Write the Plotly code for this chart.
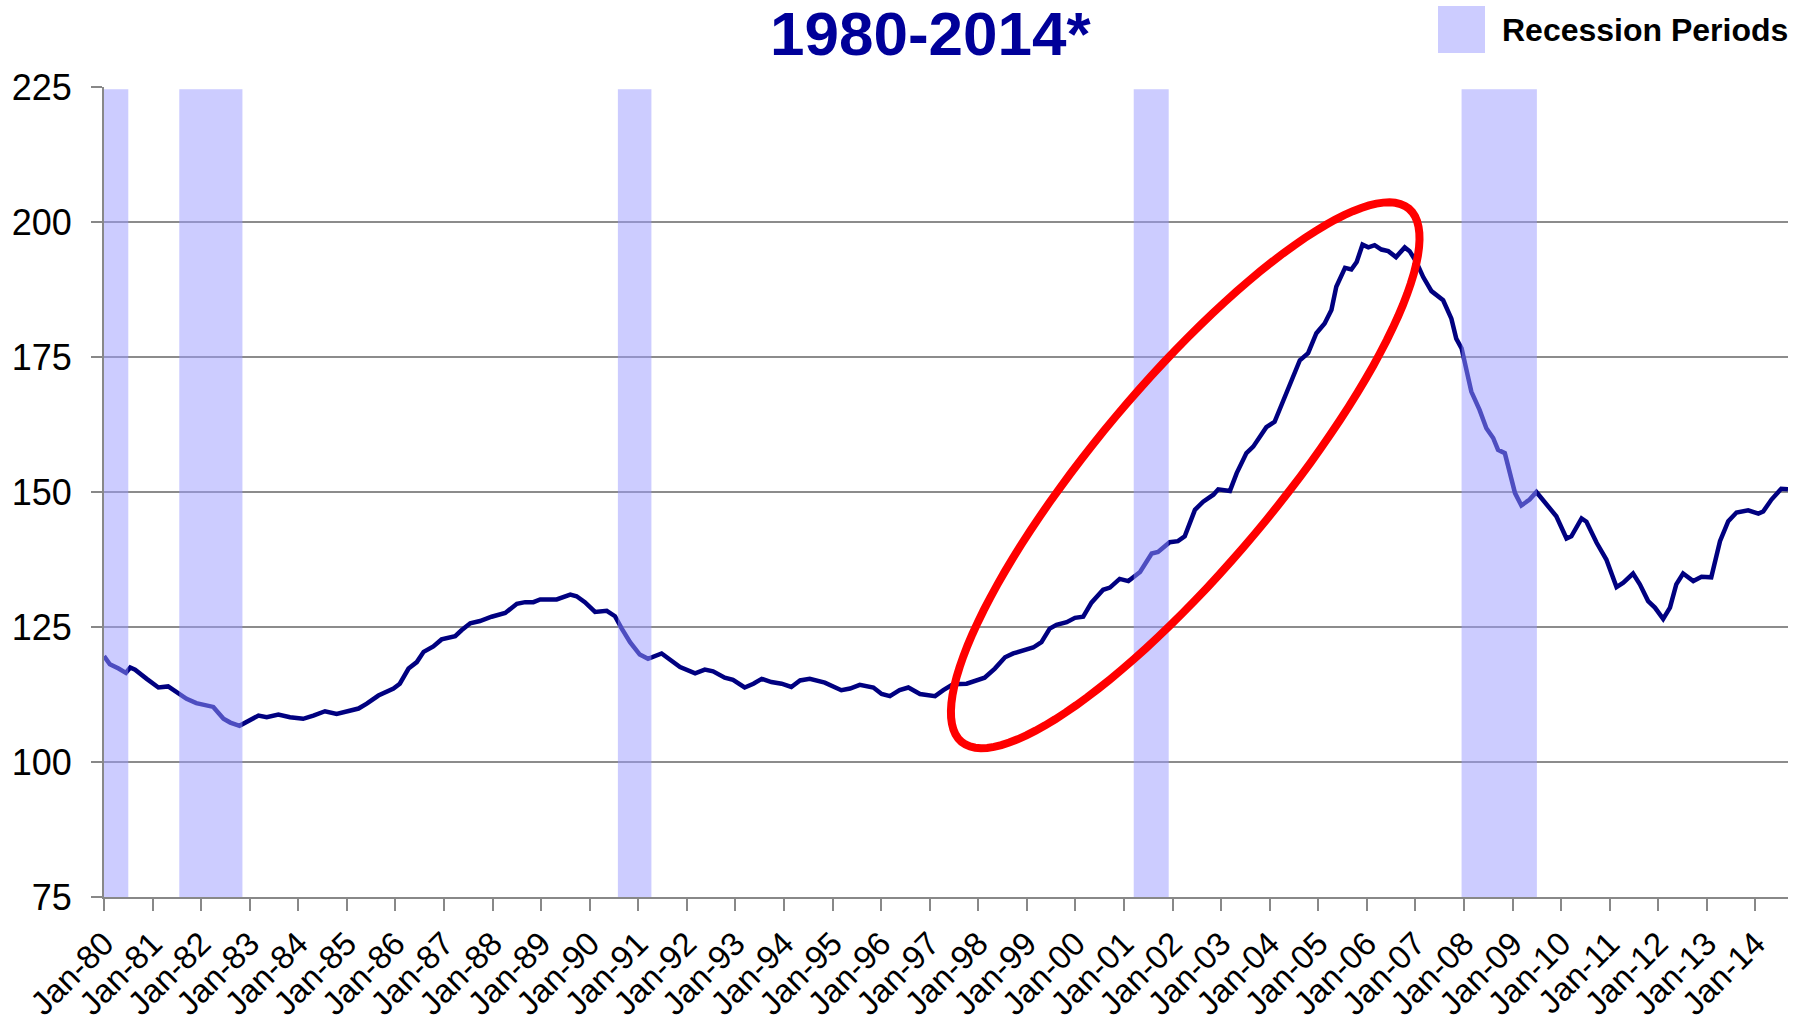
import math
import plotly.graph_objects as go

# ---------------- data ----------------
years = [
    1980.00, 1980.12, 1980.30, 1980.45, 1980.54, 1980.64, 1980.88, 1981.12, 1981.32, 1981.50,
    1981.70, 1981.90, 1982.11, 1982.25, 1982.46, 1982.60, 1982.79, 1982.94, 1983.18, 1983.35,
    1983.59, 1983.83, 1984.10, 1984.31, 1984.55, 1984.79, 1985.03, 1985.24, 1985.41, 1985.65,
    1985.96, 1986.09, 1986.27, 1986.44, 1986.58, 1986.78, 1986.95, 1987.23, 1987.36, 1987.54,
    1987.74, 1987.98, 1988.26, 1988.50, 1988.67, 1988.84, 1988.98, 1989.32, 1989.60, 1989.73,
    1989.90, 1990.11, 1990.35, 1990.52, 1990.66, 1990.83, 1991.03, 1991.20, 1991.48, 1991.65,
    1991.86, 1992.17, 1992.37, 1992.54, 1992.78, 1992.95, 1993.19, 1993.37, 1993.54, 1993.74,
    1993.95, 1994.15, 1994.33, 1994.53, 1994.84, 1995.18, 1995.36, 1995.56, 1995.84, 1996.01,
    1996.18, 1996.38, 1996.56, 1996.80, 1997.11, 1997.28, 1997.48, 1997.76, 1997.96, 1998.13,
    1998.34, 1998.55, 1998.72, 1998.92, 1999.13, 1999.30, 1999.47, 1999.61, 1999.82, 1999.99,
    2000.16, 2000.33, 2000.57, 2000.71, 2000.91, 2001.09, 2001.33, 2001.57, 2001.70, 2001.94,
    2002.11, 2002.25, 2002.46, 2002.63, 2002.84, 2002.94, 2003.18, 2003.32, 2003.52, 2003.66,
    2003.93, 2004.10, 2004.28, 2004.45, 2004.62, 2004.79, 2004.96, 2005.13, 2005.27, 2005.37,
    2005.55, 2005.68, 2005.79, 2005.91, 2006.03, 2006.16, 2006.30, 2006.44, 2006.60, 2006.78,
    2006.88, 2007.02, 2007.16, 2007.33, 2007.57, 2007.74, 2007.84, 2007.95, 2008.05, 2008.15,
    2008.32, 2008.46, 2008.60, 2008.70, 2008.84, 2008.94, 2009.05, 2009.18, 2009.35, 2009.49,
    2009.70, 2009.90, 2010.11, 2010.21, 2010.42, 2010.52, 2010.73, 2010.93, 2011.14, 2011.28,
    2011.48, 2011.62, 2011.79, 2011.93, 2012.10, 2012.24, 2012.37, 2012.51, 2012.72, 2012.89,
    2013.09, 2013.27, 2013.44, 2013.61, 2013.85, 2014.06, 2014.16, 2014.33, 2014.53, 2014.67,
]
index_values = [
    119.6, 118.1, 117.3, 116.5, 117.5, 117.1, 115.4, 113.8, 114.0, 113.0,
    111.7, 110.9, 110.5, 110.2, 108.0, 107.3, 106.7, 107.4, 108.6, 108.3,
    108.8, 108.3, 108.0, 108.6, 109.4, 108.9, 109.4, 109.9, 110.8, 112.3,
    113.6, 114.5, 117.3, 118.5, 120.4, 121.4, 122.7, 123.3, 124.4, 125.7,
    126.1, 126.9, 127.6, 129.3, 129.6, 129.6, 130.1, 130.1, 131.0, 130.7,
    129.6, 127.8, 128.0, 127.0, 124.7, 122.2, 119.9, 119.1, 120.1, 118.9,
    117.6, 116.4, 117.1, 116.8, 115.6, 115.2, 113.8, 114.5, 115.4, 114.8,
    114.5, 113.9, 115.1, 115.4, 114.7, 113.3, 113.6, 114.3, 113.8, 112.6,
    112.2, 113.3, 113.8, 112.6, 112.2, 113.3, 114.4, 114.5, 115.2, 115.6,
    117.3, 119.4, 120.1, 120.6, 121.2, 122.2, 124.7, 125.4, 125.9, 126.7,
    126.9, 129.5, 131.9, 132.3, 133.9, 133.5, 135.2, 138.6, 138.9, 140.7,
    140.9, 141.8, 146.7, 148.2, 149.5, 150.5, 150.2, 153.5, 157.2, 158.4,
    162.0, 163.0, 167.0, 171.0, 174.4, 175.7, 179.4, 181.2, 183.7, 188.0,
    191.5, 191.2, 192.6, 195.8, 195.3, 195.7, 194.9, 194.6, 193.5, 195.3,
    194.6, 192.6, 189.8, 187.2, 185.5, 182.1, 178.4, 176.6, 172.9, 168.6,
    165.2, 161.8, 160.0, 157.8, 157.2, 153.8, 149.8, 147.5, 148.6, 150.0,
    147.7, 145.5, 141.4, 141.8, 145.1, 144.5, 140.6, 137.5, 132.4, 133.2,
    134.9, 132.9, 129.8, 128.6, 126.5, 128.6, 132.9, 134.9, 133.5, 134.3,
    134.2, 140.9, 144.6, 146.2, 146.6, 146.0, 146.4, 148.6, 150.6, 150.5,
]

recession_starts = [1980.00, 1981.55, 1990.58, 2001.20, 2007.95]
recession_ends = [1980.50, 1982.85, 1991.27, 2001.92, 2009.50]

tick_years = list(range(1980, 2015))
tick_labels = ["Jan-%02d" % (y % 100) for y in tick_years]
y_ticks = [75, 100, 125, 150, 175, 200, 225]

title_text = "1980-2014*"
legend_text = "Recession Periods"

# ---------------- layout constants ----------------
FIG_W, FIG_H = 1800, 1022
M_L, M_R, M_T, M_B = 104, 12, 87, 125
PLOT_W = FIG_W - M_L - M_R
PLOT_H = FIG_H - M_T - M_B
X_MIN, X_MAX = 1980.0, 2014.67
Y_MIN, Y_MAX = 75, 225
FONT = "Liberation Sans, Arial, sans-serif"
BAND_COLOR = "rgb(153,153,255)"

fig = go.Figure()
fig.add_trace(go.Scatter(
    x=years, y=index_values, mode="lines",
    line=dict(color="#000080", width=4.5),
    hoverinfo="x+y", showlegend=False,
))

shapes = []
for s, e in zip(recession_starts, recession_ends):
    shapes.append(dict(
        type="rect", xref="x", yref="y", x0=s, x1=e, y0=Y_MIN, y1=224.6,
        fillcolor=BAND_COLOR, opacity=0.5, line=dict(width=0), layer="above",
    ))

# red highlight ellipse (annotation): centre in data units, semi-axes in pixels
ell_cx_year, ell_cy_val = 2002.26, 153.1
ell_a_px, ell_b_px, ell_angle = 348, 91, math.radians(50)
cxp = (ell_cx_year - X_MIN) / (X_MAX - X_MIN)
cyp = (ell_cy_val - Y_MIN) / (Y_MAX - Y_MIN)
pts = []
for i in range(121):
    t = 2 * math.pi * i / 120
    dx = ell_a_px * math.cos(t) * math.cos(ell_angle) - ell_b_px * math.sin(t) * math.sin(ell_angle)
    dy = ell_a_px * math.cos(t) * math.sin(ell_angle) + ell_b_px * math.sin(t) * math.cos(ell_angle)
    pts.append((cxp + dx / PLOT_W, cyp + dy / PLOT_H))
path = "M " + " L ".join("%.5f,%.5f" % p for p in pts) + " Z"
shapes.append(dict(type="path", xref="paper", yref="paper", path=path,
                   line=dict(color="#ff0000", width=8), layer="above"))


def px_to_paper_x(px):
    return (px - M_L) / PLOT_W


def px_to_paper_y(py):
    return (FIG_H - M_B - py) / PLOT_H


# legend square
shapes.append(dict(type="rect", xref="paper", yref="paper",
                   x0=px_to_paper_x(1438), x1=px_to_paper_x(1485),
                   y0=px_to_paper_y(53), y1=px_to_paper_y(6),
                   fillcolor="#ccccff", line=dict(width=0), layer="above"))

annotations = [
    dict(text="<b>%s</b>" % title_text, xref="paper", yref="paper",
         x=px_to_paper_x(930), y=px_to_paper_y(33), xanchor="center", yanchor="middle",
         showarrow=False, font=dict(family=FONT, size=62, color="#000099")),
    dict(text="<b>%s</b>" % legend_text, xref="paper", yref="paper",
         x=px_to_paper_x(1500), y=px_to_paper_y(30), xanchor="left", yanchor="middle",
         showarrow=False, font=dict(family=FONT, size=32, color="#000000")),
]

fig.update_layout(
    width=FIG_W, height=FIG_H,
    margin=dict(l=M_L, r=M_R, t=M_T, b=M_B, autoexpand=False),
    paper_bgcolor="white", plot_bgcolor="white",
    shapes=shapes, annotations=annotations, showlegend=False,
    font=dict(family=FONT, color="black"),
)
fig.update_xaxes(
    range=[X_MIN, X_MAX], tickmode="array", tickvals=tick_years, ticktext=tick_labels,
    tickangle=-45, tickfont=dict(size=33, family=FONT, color="black"),
    showgrid=False, zeroline=False, showline=True, linecolor="#888888", linewidth=2,
    ticks="outside", ticklen=12, tickcolor="#888888", tickwidth=2,
)
fig.update_yaxes(
    range=[Y_MIN, Y_MAX], tickmode="array", tickvals=y_ticks,
    tickfont=dict(size=36, family=FONT, color="black"),
    showgrid=True, gridcolor="#8c8c8c", gridwidth=1.5, zeroline=False,
    showline=True, linecolor="#888888", linewidth=2,
    ticks="outside", ticklen=11, tickcolor="#888888", tickwidth=2,
    ticklabelstandoff=12,
)

fig.write_html(
    "out.html",
    config={"displayModeBar": False},
    post_script="document.body.style.margin='0';document.body.style.padding='0';"
                "document.body.style.overflow='hidden';",
)
